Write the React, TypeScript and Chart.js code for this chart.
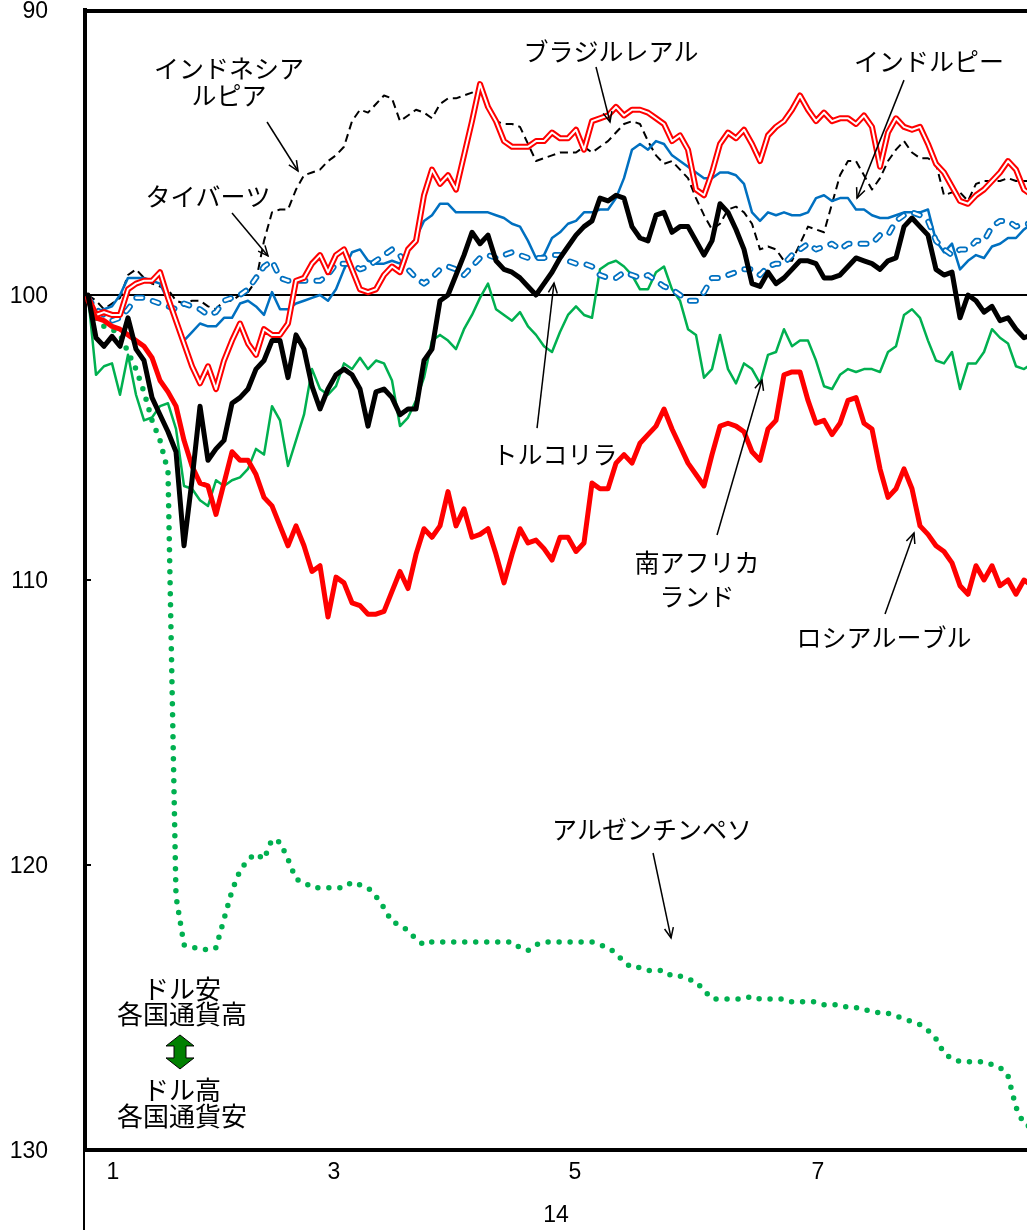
import React, { useEffect, useRef } from "react";
import { Chart, registerables } from "chart.js";

Chart.register(...registerables);

// ---- axis data ----
const yTicks = [90, 100, 110, 120, 130];
const monthTickIdx = [3.125, 30.75, 60.875, 91.25];
const monthLabels = ["1", "3", "5", "7"];
const yearLabel = "14";
const baseline = 100;

// ---- series (index, 2014 start = 100; reversed axis) ----
const turkishLira = [
  100.0, 101.5, 101.8, 101.45, 101.8, 100.8, 101.9, 102.3, 103.6, 104.2,
  104.8, 105.5, 108.8, 106.5, 103.9, 105.8, 105.4, 105.1, 103.8, 103.6,
  103.3, 102.6, 102.3, 101.6, 101.6, 102.9, 101.4, 101.9, 103.2, 104.0,
  103.3, 102.8, 102.6, 102.8, 103.3, 104.6, 103.4, 103.3, 103.6, 104.2,
  104.0, 104.0, 102.3, 101.9, 100.2, 100.0, 99.3, 98.6, 97.8, 98.2,
  97.9, 98.8, 99.1, 99.2, 99.4, 99.7, 100.0, 99.6, 99.2, 98.7,
  98.3, 97.9, 97.6, 97.4, 96.6, 96.7, 96.5, 96.6, 97.6, 98.0,
  98.1, 97.2, 97.1, 97.8, 97.6, 97.6, 98.1, 98.6, 98.1, 96.8,
  97.1, 97.7, 98.4, 99.6, 99.7, 99.2, 99.6, 99.4, 99.1, 98.8,
  98.8, 98.9, 99.4, 99.4, 99.3, 99.0, 98.7, 98.8, 98.9, 99.1,
  98.8, 98.7, 97.6, 97.3, 97.6, 97.9, 99.1, 99.3, 99.2, 100.8,
  100.0, 100.2, 100.6, 100.4, 100.9, 100.8, 101.2, 101.5, 101.4,
];

const russianRuble = [
  100.2, 100.8, 100.9, 101.1, 101.2, 101.4, 101.6, 101.8, 102.2, 103.0,
  103.4, 103.9, 105.1, 106.0, 106.6, 106.7, 107.7, 106.6, 105.5, 105.8,
  105.8, 106.3, 107.1, 107.4, 108.1, 108.8, 108.1, 108.8, 109.7, 109.5,
  111.3, 109.9, 110.1, 110.8, 110.9, 111.2, 111.2, 111.1, 110.4, 109.7,
  110.3, 109.1, 108.2, 108.5, 108.1, 106.9, 108.1, 107.5, 108.5, 108.4,
  108.2, 109.1, 110.1, 109.1, 108.2, 108.7, 108.6, 108.9, 109.3, 108.5,
  108.5, 109.0, 108.7, 106.6, 106.8, 106.8, 105.9, 105.6, 105.9, 105.2,
  104.9, 104.6, 104.0, 104.7, 105.3, 105.9, 106.3, 106.7, 105.6, 104.6,
  104.5, 104.6, 104.8, 105.5, 105.8, 104.7, 104.4, 102.8, 102.7, 102.7,
  103.7, 104.5, 104.4, 104.9, 104.5, 103.7, 103.6, 104.5, 104.7, 106.1,
  107.1, 106.8, 106.1, 106.8, 108.1, 108.4, 108.8, 109.0, 109.4, 110.2,
  110.5, 109.5, 110.0, 109.5, 110.2, 110.0, 110.5, 110.0, 110.2,
];

const southAfricaRand = [
  100.0, 102.8, 102.5, 102.4, 103.5, 102.1, 103.5, 104.4, 104.3, 103.9,
  103.8, 104.7, 106.7, 106.8, 107.2, 107.4, 106.5, 106.7, 106.5, 106.4,
  106.1, 105.4, 105.6, 103.9, 104.4, 106.0, 105.1, 104.2, 102.6, 103.3,
  103.5, 103.2, 102.4, 102.6, 102.2, 102.6, 102.3, 102.4, 103.0, 104.6,
  104.3, 103.7, 102.9, 101.6, 101.4, 101.6, 101.9, 101.2, 100.7, 100.1,
  99.6, 100.5, 100.7, 100.9, 100.6, 101.1, 101.4, 101.8, 102.0, 101.3,
  100.7, 100.4, 100.7, 100.8, 99.1, 98.9, 98.8, 99.0, 99.3, 99.8,
  99.8, 99.2, 99.0, 99.8, 100.2, 101.2, 101.4, 102.9, 102.6, 101.4,
  102.6, 103.1, 102.4, 102.6, 103.1, 102.1, 102.0, 101.2, 101.8, 101.6,
  101.6, 102.3, 103.2, 103.3, 102.8, 102.6, 102.7, 102.6, 102.6, 102.7,
  102.0, 101.8, 100.7, 100.5, 100.8, 101.6, 102.3, 102.4, 102.0, 103.3,
  102.4, 102.4, 102.0, 101.2, 101.5, 101.7, 102.5, 102.6, 102.4,
];

const argentinePeso = [
  100.1, 100.8, 101.1, 101.2, 101.4, 102.0, 102.6, 103.4, 104.4, 105.1,
  106.2, 121.1, 122.8, 122.9, 122.9, 123.0, 122.9, 121.9, 120.9, 120.2,
  119.8, 119.6, 119.8, 119.1, 119.2, 119.8, 120.5, 120.6, 120.8, 120.8,
  120.8, 120.8, 120.8, 120.6, 120.7, 120.8, 121.1, 121.5, 122.0, 122.1,
  122.3, 122.6, 122.8, 122.7, 122.7, 122.7, 122.7, 122.7, 122.7, 122.7,
  122.7, 122.7, 122.7, 122.7, 122.9, 123.0, 122.8, 122.7, 122.7, 122.7,
  122.7, 122.7, 122.7, 122.7, 122.8, 122.9, 123.1, 123.4, 123.6, 123.6,
  123.7, 123.7, 123.7, 123.9, 123.9, 124.0, 124.1, 124.4, 124.7, 124.7,
  124.7, 124.7, 124.7, 124.6, 124.7, 124.7, 124.7, 124.7, 124.8, 124.8,
  124.8, 124.8, 124.9, 124.9, 124.9, 125.0, 125.0, 125.1, 125.1, 125.2,
  125.2, 125.3, 125.4, 125.5, 125.6, 125.8, 126.1, 126.6, 126.8, 126.9,
  126.9, 126.9, 126.9, 127.0, 127.1, 127.4, 128.5, 129.1, 129.2,
];

const brazilReal = [
  100.1, 100.7, 100.6, 100.7, 100.7, 99.8, 99.6, 99.5, 99.5, 99.2,
  100.1, 100.9, 101.7, 102.5, 103.1, 102.5, 103.3, 102.3, 101.6, 101.0,
  101.7, 102.1, 101.2, 101.4, 101.4, 101.0, 99.5, 99.4, 98.9, 98.6,
  99.2, 98.6, 98.4, 99.1, 99.8, 99.9, 99.8, 99.3, 99.0, 99.2,
  98.4, 98.1, 96.5, 95.6, 96.1, 95.8, 96.3, 95.1, 93.9, 92.6,
  93.4, 93.9, 94.6, 94.8, 94.8, 94.8, 94.6, 94.6, 94.3, 94.5,
  94.5, 94.2, 94.9, 93.9, 93.8, 93.7, 93.4, 93.7, 93.5, 93.5,
  93.6, 93.8, 94.0, 94.6, 94.4, 94.9, 96.3, 96.5, 95.7, 94.7,
  94.3, 94.5, 94.2, 94.7, 95.3, 94.4, 94.1, 93.9, 93.5, 93.0,
  93.5, 93.9, 93.6, 93.9, 93.8, 93.8, 94.0, 93.7, 94.1, 95.5,
  94.3, 93.8, 94.1, 94.2, 94.1, 94.7, 95.4, 95.7, 96.2, 96.7,
  96.8, 96.5, 96.3, 96.0, 95.7, 95.3, 95.6, 96.3, 96.5,
];

const indonesiaRupiah = [
  100.0, 100.2, 100.5, 100.3, 100.1, 99.3, 99.1, 99.4, 99.6, 99.7,
  99.8, 100.2, 100.3, 100.2, 100.2, 100.4, 100.5, 100.2, 100.2, 100.0,
  99.9, 99.5, 98.1, 97.1, 97.0, 97.0, 96.3, 95.8, 95.7, 95.6,
  95.3, 95.1, 94.8, 93.9, 93.5, 93.6, 93.3, 93.0, 93.1, 93.9,
  93.7, 93.5, 93.6, 93.8, 93.3, 93.1, 93.1, 93.0, 92.9, 92.7,
  93.4, 93.9, 94.0, 94.0, 94.1, 94.7, 95.3, 95.2, 95.1, 95.0,
  95.0, 95.0, 94.8, 95.0, 94.8, 94.6, 94.3, 94.0, 93.9, 94.0,
  94.6, 95.1, 95.4, 95.3, 95.6, 95.9, 96.6, 97.2, 97.7, 97.5,
  97.0, 96.9, 97.1, 97.5, 98.4, 98.3, 98.4, 98.8, 98.8, 98.2,
  97.6, 97.7, 97.8, 96.8, 95.8, 95.3, 95.3, 95.8, 96.3, 95.9,
  95.3, 94.9, 94.6, 95.0, 95.2, 95.2, 95.4, 96.5, 96.4, 96.4,
  96.7, 96.1, 96.0, 96.0, 96.0, 95.9, 96.0, 96.0, 96.0,
];

const indiaRupee = [
  100.1, 100.6, 100.5, 100.4, 100.0, 99.4, 99.4, 99.4, 99.5, 99.6,
  100.2, 100.8, 101.6, 101.3, 101.0, 101.1, 101.1, 100.8, 100.8, 100.3,
  100.2, 100.4, 100.7, 99.9, 100.5, 100.5, 100.3, 100.2, 100.1, 100.0,
  100.2, 99.8, 99.1, 98.5, 98.4, 98.8, 98.9, 98.9, 98.8, 98.9,
  98.4, 98.0, 97.4, 97.2, 96.8, 96.8, 97.1, 97.1, 97.1, 97.1,
  97.1, 97.2, 97.3, 97.5, 97.6, 98.1, 98.7, 98.6, 98.0, 97.8,
  97.5, 97.4, 97.1, 97.1, 97.0, 97.0, 96.6, 95.9, 94.9, 94.7,
  94.9, 94.6, 94.7, 95.1, 95.3, 95.5, 95.7, 95.9, 95.9, 95.7,
  95.7, 95.8, 96.1, 97.1, 97.4, 97.1, 97.2, 97.1, 97.2, 97.2,
  97.1, 96.6, 96.5, 96.7, 96.6, 96.6, 97.0, 97.0, 97.2, 97.3,
  97.3, 97.2, 97.1, 97.1, 97.1, 97.0, 98.1, 98.5, 98.2, 99.1,
  98.8, 98.6, 98.7, 98.3, 98.2, 98.0, 98.0, 97.7, 97.5,
];

const thaiBaht = [
  100.1, 100.5, 100.7, 100.9, 100.8, 100.5, 100.1, 100.1, 100.2, 100.3,
  100.4, 100.5, 100.3, 100.4, 100.5, 100.7, 100.6, 100.2, 100.1, 100.0,
  99.8, 99.4, 99.0, 98.8, 99.4, 99.5, 99.5, 99.5, 99.5, 99.5,
  99.3, 98.9, 98.9, 98.9, 99.1, 99.0, 98.8, 98.6, 98.4, 98.6,
  99.1, 99.4, 99.6, 99.4, 99.1, 99.0, 99.1, 99.3, 99.0, 98.7,
  98.6, 98.7, 98.6, 98.5, 98.6, 98.7, 98.7, 98.7, 98.6, 98.6,
  98.8, 98.9, 98.9, 99.0, 99.3, 99.4, 99.4, 99.2, 99.3, 99.4,
  99.3, 99.5, 99.7, 99.8, 100.0, 100.2, 100.2, 99.9, 99.4, 99.4,
  99.3, 99.2, 99.1, 99.1, 99.3, 99.0, 98.9, 98.9, 98.6, 98.4,
  98.2, 98.4, 98.3, 98.2, 98.4, 98.2, 98.2, 98.2, 98.2, 97.9,
  97.9, 97.4, 97.2, 97.1, 97.2, 97.4, 98.1, 98.4, 98.6, 98.4,
  98.4, 98.1, 98.1, 97.6, 97.4, 97.4, 97.6, 97.5, 97.5,
];

// ---- annotations (anchored in data coordinates) ----
type Note = {
  lines: string[];
  dy: number[];
  x: number;
  y: number;
  size: number;
  arrow?: [number, number, number, number];
};

const notes: Note[] = [
  { lines: ["インドネシア", "ルピア"], dy: [0, 27], x: 17.63, y: 92.07, size: 25, arrow: [22.38, 93.93, 26.25, 95.65] },
  { lines: ["タイバーツ"], dy: [0], x: 15.0, y: 96.56, size: 25, arrow: [18.0, 97.12, 22.5, 98.63] },
  { lines: ["ブラジルレアル"], dy: [0], x: 65.38, y: 91.47, size: 25, arrow: [63.5, 92.0, 65.25, 93.93] },
  { lines: ["インドルピー"], dy: [0], x: 105.13, y: 91.82, size: 25, arrow: [102.0, 92.46, 96.13, 96.6] },
  { lines: ["トルコリラ"], dy: [0], x: 58.38, y: 105.61, size: 25, arrow: [56.13, 104.67, 58.25, 99.58] },
  { lines: ["南アフリカ", "ランド"], dy: [0, 34], x: 76.13, y: 109.37, size: 25, arrow: [78.63, 108.42, 84.25, 102.98] },
  { lines: ["ロシアルーブル"], dy: [0], x: 99.5, y: 112.0, size: 25, arrow: [99.63, 111.19, 103.25, 108.35] },
  { lines: ["アルゼンチンペソ"], dy: [0], x: 70.5, y: 118.77, size: 25, arrow: [70.63, 119.58, 72.88, 122.56] },
  { lines: ["ドル安", "各国通貨高"], dy: [0, 25], x: 11.75, y: 124.35, size: 26 },
  { lines: ["ドル高", "各国通貨安"], dy: [0, 26], x: 11.75, y: 127.89, size: 26 },
];
const doubleArrowAt = { x: 11.5, y: 126.56 };

const FONT_JP = '"Noto Sans CJK JP", "Noto Sans", sans-serif';
const FONT_NUM = '"Liberation Sans", Arial, sans-serif';

function drawArrow(ctx: CanvasRenderingContext2D, x1: number, y1: number, x2: number, y2: number) {
  ctx.beginPath();
  ctx.moveTo(x1, y1);
  ctx.lineTo(x2, y2);
  ctx.stroke();
  const a = Math.atan2(y2 - y1, x2 - x1);
  const L = 11;
  const w = 0.42;
  ctx.beginPath();
  ctx.moveTo(x2 - L * Math.cos(a - w), y2 - L * Math.sin(a - w));
  ctx.lineTo(x2, y2);
  ctx.lineTo(x2 - L * Math.cos(a + w), y2 - L * Math.sin(a + w));
  ctx.stroke();
}

const framePlugin = {
  id: "frame",
  beforeDatasetsDraw(chart: any) {
    const { ctx, chartArea, scales } = chart;
    const py = scales.y.getPixelForValue(baseline);
    ctx.save();
    ctx.strokeStyle = "#000";
    ctx.lineWidth = 2;
    ctx.beginPath();
    ctx.moveTo(chartArea.left, py);
    ctx.lineTo(chartArea.right, py);
    ctx.stroke();
    ctx.restore();
  },
  afterDatasetsDraw(chart: any) {
    const { ctx, chartArea, scales } = chart;
    const xs = scales.x;
    const ys = scales.y;
    ctx.save();
    // top frame line
    ctx.strokeStyle = "#000";
    ctx.lineWidth = 4;
    ctx.beginPath();
    ctx.moveTo(chartArea.left - 2, chartArea.top + 1);
    ctx.lineTo(chartArea.right, chartArea.top + 1);
    ctx.stroke();
    // inner tick marks
    ctx.lineWidth = 2;
    for (const v of yTicks) {
      if (v === yTicks[0] || v === yTicks[yTicks.length - 1]) continue;
      const py = ys.getPixelForValue(v);
      ctx.beginPath();
      ctx.moveTo(chartArea.left, py);
      ctx.lineTo(chartArea.left + 6, py);
      ctx.stroke();
    }
    // axis continuation below the x axis
    ctx.beginPath();
    ctx.moveTo(chartArea.left - 1, chartArea.bottom);
    ctx.lineTo(chartArea.left - 1, chart.height);
    ctx.stroke();

    // annotations
    ctx.fillStyle = "#000";
    ctx.textAlign = "center";
    ctx.textBaseline = "middle";
    ctx.lineWidth = 1.5;
    for (const n of notes) {
      ctx.font = `${n.size}px ${FONT_JP}`;
      const cx = xs.getPixelForValue(n.x);
      const cy = ys.getPixelForValue(n.y);
      n.lines.forEach((t, i) => ctx.fillText(t, cx, cy + n.dy[i]));
      if (n.arrow) {
        const [ax1, ay1, ax2, ay2] = n.arrow;
        drawArrow(ctx, xs.getPixelForValue(ax1), ys.getPixelForValue(ay1), xs.getPixelForValue(ax2), ys.getPixelForValue(ay2));
      }
    }
    // green double arrow
    const gx = xs.getPixelForValue(doubleArrowAt.x);
    const gy = ys.getPixelForValue(doubleArrowAt.y);
    const top = gy - 17;
    const bot = gy + 17;
    ctx.beginPath();
    ctx.moveTo(gx, top);
    ctx.lineTo(gx + 14, top + 11);
    ctx.lineTo(gx + 6, top + 11);
    ctx.lineTo(gx + 6, bot - 11);
    ctx.lineTo(gx + 14, bot - 11);
    ctx.lineTo(gx, bot);
    ctx.lineTo(gx - 14, bot - 11);
    ctx.lineTo(gx - 6, bot - 11);
    ctx.lineTo(gx - 6, top + 11);
    ctx.lineTo(gx - 14, top + 11);
    ctx.closePath();
    ctx.fillStyle = "#008000";
    ctx.fill();
    ctx.lineWidth = 1;
    ctx.strokeStyle = "#000";
    ctx.stroke();
    ctx.restore();
  },
};

function line(label: string, values: number[], color: string, width: number, order: number, extra: any = {}) {
  return {
    label,
    data: values.map((v, i) => ({ x: i, y: v })),
    borderColor: color,
    backgroundColor: color,
    borderWidth: width,
    pointRadius: 0,
    pointHoverRadius: 0,
    fill: false,
    tension: 0,
    borderJoinStyle: "round",
    borderCapStyle: "round",
    order,
    ...extra,
  };
}

export default function App() {
  const ref = useRef<HTMLCanvasElement>(null);
  useEffect(() => {
    const canvas = ref.current;
    if (!canvas) return;
    const chart = new Chart(canvas, {
      type: "line",
      data: {
        datasets: [
          line("トルコリラ", turkishLira, "#000000", 5, 1),
          line("ロシアルーブル", russianRuble, "#ff0000", 5, 2),
          line("ブラジルレアル_inner", brazilReal, "#ffffff", 2, 3),
          line("ブラジルレアル", brazilReal, "#ff0000", 6, 4),
          line("タイバーツ_inner", thaiBaht, "#ffffff", 2.5, 5, { borderDash: [6, 11] }),
          line("タイバーツ", thaiBaht, "#0070c0", 6, 6, { borderDash: [6, 11] }),
          line("インドルピー", indiaRupee, "#0070c0", 2.5, 7),
          line("インドネシアルピア", indonesiaRupiah, "#000000", 2, 8, { borderDash: [8, 5], borderCapStyle: "butt" }),
          line("南アフリカランド", southAfricaRand, "#00b050", 2.5, 9),
          line("アルゼンチンペソ", argentinePeso, "#00b050", 5.5, 10, { borderDash: [0, 11] }),
        ] as any,
      },
      options: {
        responsive: false,
        maintainAspectRatio: false,
        devicePixelRatio: 1,
        animation: false,
        layout: { padding: { top: 10, left: 0, right: 0, bottom: 0 } },
        plugins: { legend: { display: false }, tooltip: { enabled: false } },
        events: [],
        scales: {
          x: {
            type: "linear",
            min: -0.375,
            max: 117.375,
            grid: { display: true, drawOnChartArea: false, drawTicks: false },
            border: { display: true, color: "#000", width: 4 },
            ticks: {
              autoSkip: false,
              maxRotation: 0,
              padding: 9,
              color: "#000",
              font: { family: FONT_NUM, size: 23 },
              callback: (_v: any, i: number) => monthLabels[i],
            },
            title: {
              display: true,
              text: yearLabel,
              color: "#000",
              font: { family: FONT_NUM, size: 23 },
              padding: { top: 0, bottom: 1 },
            },
            afterBuildTicks: (s: any) => {
              s.ticks = monthTickIdx.map((v) => ({ value: v }));
            },
            afterFit: (s: any) => {
              s.height = 80;
              s.paddingLeft = 0;
              s.paddingRight = 0;
            },
          },
          y: {
            type: "linear",
            reverse: true,
            min: 90,
            max: 130,
            grid: { display: true, drawOnChartArea: false, drawTicks: false },
            border: { display: true, color: "#000", width: 4 },
            ticks: {
              padding: 37,
              labelOffset: 2,
              color: "#000",
              font: { family: FONT_NUM, size: 23 },
            },
            afterBuildTicks: (s: any) => {
              s.ticks = yTicks.map((v) => ({ value: v }));
            },
            afterFit: (s: any) => {
              s.width = 85;
              s.paddingTop = 0;
              s.paddingBottom = 0;
            },
          },
        },
      } as any,
      plugins: [framePlugin],
    });
    return () => chart.destroy();
  }, []);
  return (
    <div style={{ position: "absolute", left: 0, top: 0, width: 1027, height: 1230, background: "#fff", overflow: "hidden" }}>
      <canvas ref={ref} width={1027} height={1230} style={{ display: "block", width: 1027, height: 1230 }} />
    </div>
  );
}
